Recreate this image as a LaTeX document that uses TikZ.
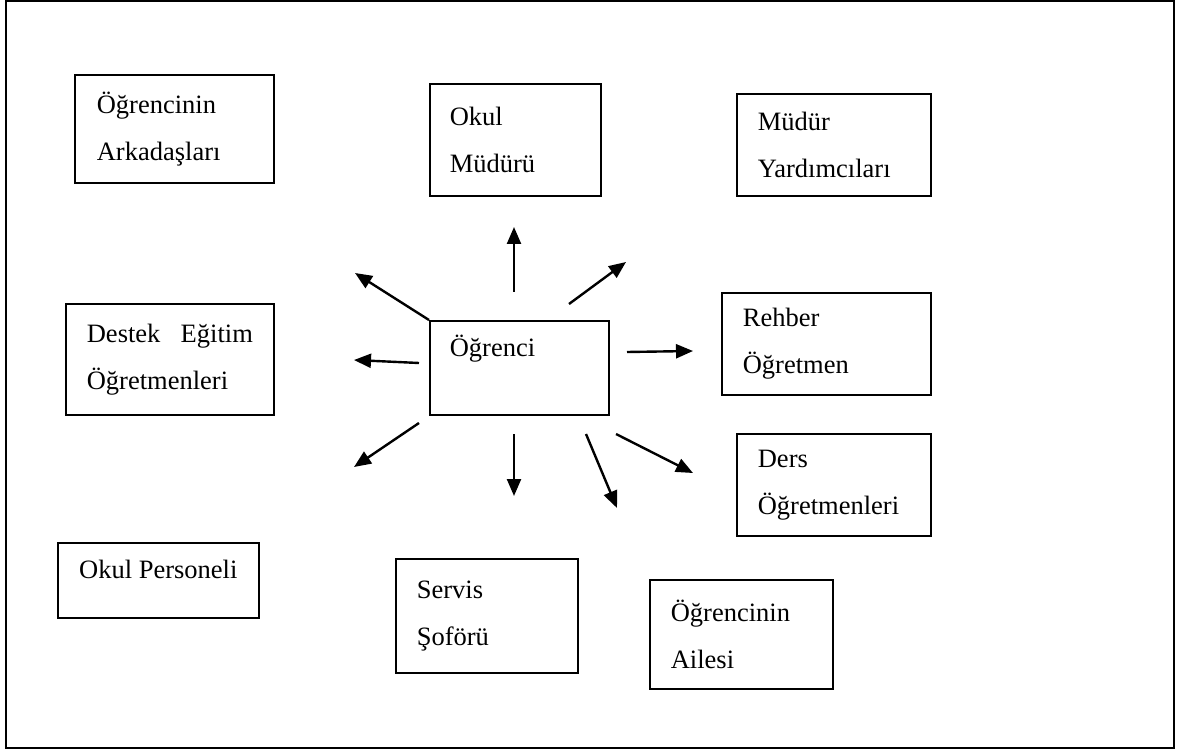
\documentclass[tikz,border=0pt]{standalone}
\usepackage{fontspec}
\setmainfont{Liberation Serif}
\usetikzlibrary{arrows.meta}

\begin{document}
\begin{tikzpicture}[x=1pt,y=-1pt,>={Triangle[length=17pt,width=14pt]}]
  \tikzstyle{party}=[draw,line width=1.7pt,anchor=north west,align=left,inner ysep=0pt,font=\fontsize{26.5}{47}\selectfont]
  \tikzstyle{link}=[->,line width=2.4pt]

  \useasboundingbox (0,0) rectangle (1178,751);
  \draw[line width=2pt] (6,1.5) rectangle (1174,747.5);

  \node[party,inner xsep=22pt,text width=155pt,minimum height=108pt] (arkadas) at (74,74) {Öğrencinin\\Arkadaşları};
  \node[party,inner xsep=20pt,text width=131pt,minimum height=112pt] (mudur) at (429,83) {Okul\\Müdürü};
  \node[party,inner xsep=21pt,text width=152pt,minimum height=102pt] (yardimci) at (736,93) {Müdür\\Yardımcıları};
  \node[party,inner xsep=21pt,text width=166pt,minimum height=111pt] (destek) at (65,303) {Destek\hfill Eğitim\\Öğretmenleri};
  \node[party,inner xsep=20pt,text width=139pt,inner ysep=12pt,text height=24pt,text depth=46pt] (ogrenci) at (429,320) {Öğrenci};
  \node[party,inner xsep=21pt,text width=167pt,minimum height=102pt] (rehber) at (721,292) {Rehber\\Öğretmen};
  \node[party,inner xsep=21pt,text width=152pt,minimum height=102pt] (ders) at (736,433) {Ders\\Öğretmenleri};
  \node[party,inner xsep=21pt,minimum width=201pt,inner ysep=12pt,text height=24pt,text depth=27pt] (personel) at (57,542) {Okul Personeli};
  \node[party,inner xsep=21pt,text width=140pt,minimum height=114pt] (servis) at (395,558) {Servis\\Şoförü};
  \node[party,inner xsep=21pt,text width=141pt,minimum height=109pt] (aile) at (649,579) {Öğrencinin\\Ailesi};

  % free ends of the arrows
  \coordinate (fromUp) at (514,292);    \coordinate (toUp) at (514,227);
  \coordinate (fromUR) at (569,304);    \coordinate (toUR) at (626,262);
  \coordinate (toUL) at (355,273);
  \coordinate (fromL) at (419,363);     \coordinate (toL) at (354,360);
  \coordinate (fromR) at (627,352);     \coordinate (toR) at (693,351);
  \coordinate (fromDL) at (419,423);    \coordinate (toDL) at (354,467);
  \coordinate (fromDown) at (514,434);  \coordinate (toDown) at (514,496);
  \coordinate (fromDR) at (586,434);    \coordinate (toDR) at (617,508);
  \coordinate (fromRR) at (616,434);    \coordinate (toRR) at (693,473);

  \path[link]
    (fromUp) edge (toUp)
    (fromUR) edge (toUR)
    (ogrenci.north west) edge (toUL)
    (fromL) edge (toL)
    (fromR) edge (toR)
    (fromDL) edge (toDL)
    (fromDown) edge (toDown)
    (fromDR) edge (toDR)
    (fromRR) edge (toRR);
\end{tikzpicture}
\end{document}
